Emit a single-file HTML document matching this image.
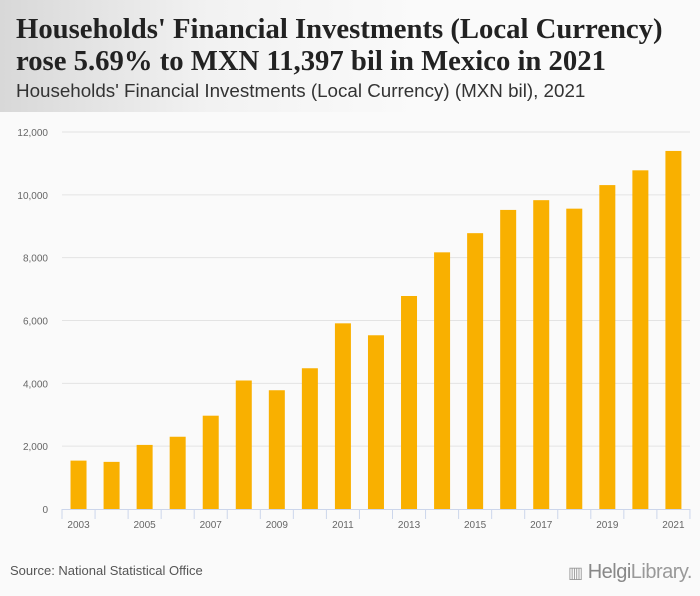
<!DOCTYPE html>
<html><head><meta charset="utf-8"><style>
body{margin:0;width:700px;height:596px;background:#fafafa;font-family:"Liberation Sans",sans-serif;overflow:hidden;position:relative}
#hdr{position:absolute;left:0;top:0;width:700px;height:112px;background:linear-gradient(90deg,#d8d8d8 0%,#f2f2f2 30%,#fafafa 60%)}
#t{position:absolute;left:16px;top:13px;font:bold 28.7px/32px "Liberation Serif",serif;color:#222;white-space:nowrap}
#st{position:absolute;left:16px;top:80px;font:18.8px "Liberation Sans",sans-serif;color:#333;white-space:nowrap}
#src{position:absolute;left:10px;top:563px;font:13px "Liberation Sans",sans-serif;color:#555}
#logo{position:absolute;left:568px;top:561px;font:20px "Liberation Sans",sans-serif;color:#999;letter-spacing:-0.5px}
</style></head><body>
<div id="hdr"></div>
<div id="t">Households' Financial Investments (Local Currency)<br>rose 5.69% to MXN 11,397 bil in Mexico in 2021</div>
<div id="st">Households' Financial Investments (Local Currency) (MXN bil), 2021</div>
<svg id="c" width="700" height="596" style="position:absolute;left:0;top:0"></svg>
<div id="src">Source: National Statistical Office</div>
<div id="logo"><span style="font-size:16px">▥</span> <b style="font-weight:normal;color:#888">Helgi</b>Library.</div>
<script>
const years=["2003","2004","2005","2006","2007","2008","2009","2010","2011","2012","2013","2014","2015","2016","2017","2018","2019","2020","2021"];
const values=[1540,1500,2040,2300,2970,4090,3780,4480,5910,5530,6780,8170,8780,9520,9830,9560,10310,10780,11397];
const yTicks=[0,2000,4000,6000,8000,10000,12000];
const tickLabels=["0","2,000","4,000","6,000","8,000","10,000","12,000"];
const svg=document.getElementById('c');const NS='http://www.w3.org/2000/svg';
const x0=62,bw=33.05,yb=509,yt=132,ymax=12000;
const X=i=>x0+i*bw, Y=v=>yb-(v/ymax)*(yb-yt);
function mk(t,a){const e=document.createElementNS(NS,t);for(const k in a)e.setAttribute(k,a[k]);svg.appendChild(e);return e;}
yTicks.forEach((v,i)=>{
 if(v>0){const l=mk('line',{x1:x0,x2:690,y1:Y(v),y2:Y(v),stroke:'#e3e3e3','stroke-width':1});
 
 }
 const t=mk('text',{x:48,y:Y(v)+4,'text-anchor':'end','font-size':10,fill:'#666','font-family':'Liberation Sans, sans-serif'});t.textContent=tickLabels[i];
 
 
});
const ax=mk('line',{x1:x0,x2:x0+years.length*bw,y1:yb+0.5,y2:yb+0.5,stroke:'#ccd6eb'});


for(let i=0;i<=years.length;i++){const k=mk('line',{x1:X(i),x2:X(i),y1:yb,y2:yb+10,stroke:'#ccd6eb'});
 
 }
values.forEach((v,i)=>{
 const r=mk('rect',{x:X(i)+bw/2-8,y:Y(v),width:16,height:yb-Y(v),fill:'#f9b000'});
 
 
 if(i%2==0){const t=mk('text',{x:X(i)+bw/2,y:yb+19,'text-anchor':'middle','font-size':10,fill:'#666','font-family':'Liberation Sans, sans-serif'});t.textContent=years[i];
 
 }
});
</script>
</body></html>
